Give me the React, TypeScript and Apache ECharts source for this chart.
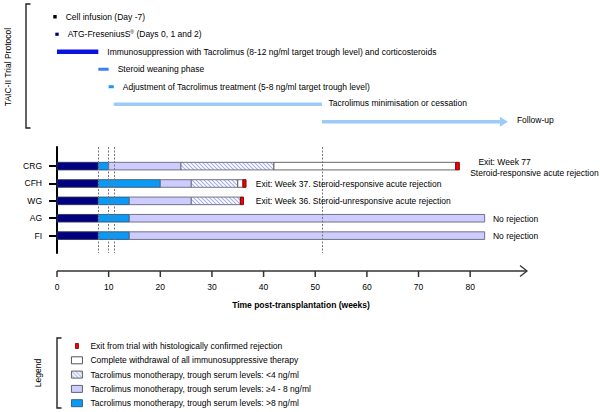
import React, { useEffect, useRef } from "react";
import * as echarts from "echarts";

const FONT = '"Liberation Sans", Arial, sans-serif';
const FS = 8.5;

// ---- Data ----
const rowNames = ["CRG", "CFH", "WG", "AG", "FI"];
const xTicks = [0, 10, 20, 30, 40, 50, 60, 70, 80];
const xAxisMax = 91;
// segments: [start week, end week, row index]
const inductionSeg = [[0, 8, 0], [0, 8, 1], [0, 8, 2], [0, 8, 3], [0, 8, 4]];
const tacHighSeg = [[8, 10, 0], [8, 20, 1], [8, 14, 2], [8, 14, 3], [8, 14, 4]];
const tacMidSeg = [[10, 24, 0], [20, 26, 1], [14, 26, 2], [14, 82.8, 3], [14, 82.8, 4]];
const tacLowSeg = [[24, 42, 0], [26, 35, 1], [26, 35.5, 2]];
const withdrawalSeg = [[42, 77.2, 0], [35, 36, 1]];
const exitSeg = [[77.2, 77.9, 0], [36, 36.6, 1], [35.5, 36.1, 2]];
const protocolMarks = [8, 10, 11, 51.3];
const annotationX = [81.6, 80.0, 38.5, 38.5, 84.4, 84.4];
const annotationRow = [-0.25, 0.35, 1, 2, 3, 4];
const annotationText = [
  "Exit: Week 77",
  "Steroid-responsive acute rejection",
  "Exit: Week 37. Steroid-responsive acute rejection",
  "Exit: Week 36. Steroid-unresponsive acute rejection",
  "No rejection",
  "No rejection",
];
const protocolText = [
  "Cell infusion (Day -7)",
  "ATG-FreseniusS{sup|®} (Days 0, 1 and 2)",
  "Immunosuppression with Tacrolimus (8-12 ng/ml target trough level) and corticosteroids",
  "Steroid weaning phase",
  "Adjustment of Tacrolimus treatment (5-8 ng/ml target trough level)",
  "Tacrolimus minimisation or cessation",
  "Follow-up",
];
const protocolStart = [-0.72, -0.33, 0, 8, 10, 11, 51.3];
const protocolEnd = [-0.06, 0.33, 8, 10, 11, 51.3, 87.3];
const legendNames = [
  "Exit from trial with histologically confirmed rejection",
  "Complete withdrawal of all immunosuppressive therapy",
  "Tacrolimus monotherapy, trough serum levels: <4 ng/ml",
  "Tacrolimus monotherapy, trough serum levels: \u22654 - 8 ng/ml",
  "Tacrolimus monotherapy, trough serum levels: >8 ng/ml",
];

// ---- Styles ----
const protocolStyle = [
  { color: "#000000", h: 3.4 },
  { color: "#000080", h: 3.2 },
  { color: "#0a14e0", h: 4.3 },
  { color: "#3f7cff", h: 3 },
  { color: "#1f95f5", h: 3 },
  { color: "#9ccbfa", h: 3.6 },
  { color: "#9ccbfa", h: 3.6 },
];

export default function App() {
  const ref = useRef<HTMLDivElement>(null);
  useEffect(() => {
    const el = ref.current!;
    const chart = echarts.init(el, null, { renderer: "svg" });

    const cv = document.createElement("canvas");
    const s = 4;
    cv.width = s;
    cv.height = s;
    const ctx = cv.getContext("2d")!;
    ctx.fillStyle = "#ffffff";
    ctx.fillRect(0, 0, s, s);
    ctx.strokeStyle = "#a7b0e6";
    ctx.lineWidth = 1.2;
    ctx.beginPath();
    ctx.moveTo(0, 0);
    ctx.lineTo(s, s);
    ctx.moveTo(-1, s - 1);
    ctx.lineTo(1, s + 1);
    ctx.moveTo(s - 1, -1);
    ctx.lineTo(s + 1, 1);
    ctx.stroke();
    const hatch: any = { image: cv, repeat: "repeat" };

    const segStyles: any = {
      induction: { fill: "#000080", stroke: "#333355" },
      high: { fill: "#0a9af5", stroke: "#335577" },
      mid: { fill: "#ccccff", stroke: "#666677" },
      low: { fill: hatch, stroke: "#666677" },
      withdrawal: { fill: "#ffffff", stroke: "#555555" },
      exit: { fill: "#ff0000", stroke: "#660000" },
    };

    const mkSeg = (name: string, data: number[][], st: any, z: number) => ({
      type: "custom",
      name,
      xAxisIndex: 0,
      yAxisIndex: 0,
      z,
      data,
      encode: { x: [0, 1], y: 2 },
      itemStyle: { color: st.fill, borderColor: st.stroke },
      renderItem: (params: any, api: any) => {
        const a = api.coord([api.value(0), api.value(2)]);
        const b = api.coord([api.value(1), api.value(2)]);
        const h = 7.6;
        return {
          type: "rect",
          shape: { x: a[0], y: a[1] - h / 2, width: b[0] - a[0], height: h },
          style: { fill: st.fill, stroke: st.stroke, lineWidth: 0.9 },
        };
      },
    });

    const option: any = {
      animation: false,
      textStyle: { fontFamily: FONT },
      grid: [
        { left: 57, width: 470, top: 147, height: 106 },
        { left: 57, width: 470, top: 8, height: 126 },
        { left: 57, width: 470, top: 147, height: 124 },
      ],
      xAxis: [
        { type: "value", gridIndex: 0, min: 0, max: xAxisMax, show: false },
        { type: "value", gridIndex: 1, min: 0, max: xAxisMax, show: false },
        {
          type: "value",
          gridIndex: 2,
          min: 0,
          max: xAxisMax,
          position: "bottom",
          splitLine: { show: false },
          axisLine: { show: false },
          axisTick: { show: false },
          axisLabel: { show: true, fontSize: FS, color: "#000", margin: 11, fontFamily: FONT, customValues: xTicks },
          name: "Time post-transplantation (weeks)",
          nameLocation: "middle",
          nameGap: 29.5,
          nameTextStyle: { fontSize: FS, fontWeight: "bold", color: "#000", fontFamily: FONT, padding: [0, 0, 0, 18] },
        },
      ],
      yAxis: [
        {
          type: "value",
          gridIndex: 0,
          inverse: true,
          min: -1.1,
          max: 5,
          splitLine: { show: false },
          axisLine: { show: true, onZero: false, lineStyle: { color: "#000", width: 2 } },
          axisTick: { show: true, length: 8, lineStyle: { color: "#000", width: 2 }, customValues: [0, 1, 2, 3, 4] },
          axisLabel: {
            show: true,
            fontSize: FS,
            color: "#000",
            margin: 15,
            fontFamily: FONT,
            customValues: [0, 1, 2, 3, 4],
            formatter: (v: number) => rowNames[Math.round(v)] ?? "",
          },
        },
        { type: "value", gridIndex: 1, inverse: true, min: -0.5, max: 6.7, show: false },
        { type: "value", gridIndex: 2, min: 0, max: 1, show: false },
      ],
      legend: {
        orient: "vertical",
        left: 71,
        top: 341.5,
        height: 80,
        padding: 0,
        itemWidth: 11,
        itemHeight: 7,
        itemGap: 5.3,
        selectedMode: false,
        textStyle: { fontSize: FS, color: "#000", fontFamily: FONT, padding: [0, 0, 0, 3] },
        data: [
          {
            name: legendNames[0],
            icon: "path://M0,0M11,7M4,1h3v5h-3z",
            itemStyle: { color: "#ff0000", borderColor: "#660000", borderWidth: 0.8 },
          },
          { name: legendNames[1], icon: "rect", itemStyle: { color: "#ffffff", borderColor: "#444", borderWidth: 0.9 } },
          { name: legendNames[2], icon: "rect", itemStyle: { color: hatch, borderColor: "#555", borderWidth: 0.9 } },
          { name: legendNames[3], icon: "rect", itemStyle: { color: "#ccccff", borderColor: "#555", borderWidth: 0.9 } },
          { name: legendNames[4], icon: "rect", itemStyle: { color: "#0a9af5", borderColor: "#335577", borderWidth: 0.9 } },
        ],
      },
      graphic: [
        {
          type: "polyline",
          shape: { points: [[30.5, 4], [26, 4], [26, 128], [30.5, 128]] },
          style: { stroke: "#222", lineWidth: 1.4, fill: "none" },
        },
        {
          type: "text",
          x: 8,
          y: 67,
          rotation: Math.PI / 2,
          style: { text: "TAIC-II Trial Protocol", fontSize: FS, fontFamily: FONT, fill: "#000", align: "center", verticalAlign: "middle" },
        },
        {
          type: "polyline",
          shape: { points: [[61.5, 338], [57, 338], [57, 408], [61.5, 408]] },
          style: { stroke: "#222", lineWidth: 1.4, fill: "none" },
        },
        {
          type: "text",
          x: 38,
          y: 373,
          rotation: Math.PI / 2,
          style: { text: "Legend", fontSize: FS, fontFamily: FONT, fill: "#000", align: "center", verticalAlign: "middle" },
        },
      ],
      series: [
        {
          type: "line",
          xAxisIndex: 0,
          yAxisIndex: 0,
          data: [],
          z: 1,
          silent: true,
          markLine: {
            silent: true,
            symbol: ["none", "none"],
            label: { show: false },
            lineStyle: { color: "#777", type: [2, 1.5], width: 1 },
            data: protocolMarks.map((v) => ({ xAxis: v })),
          },
        },
        // x axis line, ticks and arrow head, drawn through the axis scale
        {
          type: "custom",
          xAxisIndex: 2,
          yAxisIndex: 2,
          z: 2,
          clip: false,
          silent: true,
          data: [[0, xAxisMax]],
          encode: { x: [0, 1] },
          renderItem: (params: any, api: any) => {
            const a = api.coord([api.value(0), 0]);
            const b = api.coord([api.value(1), 0]);
            const y = a[1];
            const lineStyle = { stroke: "#333", lineWidth: 1.5 };
            const children: any[] = [
              { type: "line", shape: { x1: a[0], y1: y, x2: b[0] - 0.5, y2: y }, style: lineStyle },
              {
                type: "polyline",
                shape: { points: [[b[0] - 7, y - 5.5], [b[0], y], [b[0] - 7, y + 5.5]] },
                style: { stroke: "#333", lineWidth: 1.3, fill: "none" },
              },
            ];
            xTicks.forEach((t) => {
              const p = api.coord([t, 0]);
              children.push({ type: "line", shape: { x1: p[0], y1: y, x2: p[0], y2: y + 6 }, style: lineStyle });
            });
            return { type: "group", children };
          },
        },
        mkSeg("Induction", inductionSeg, segStyles.induction, 3),
        mkSeg(legendNames[4], tacHighSeg, segStyles.high, 3),
        mkSeg(legendNames[3], tacMidSeg, segStyles.mid, 3),
        mkSeg(legendNames[2], tacLowSeg, segStyles.low, 3),
        mkSeg(legendNames[1], withdrawalSeg, segStyles.withdrawal, 3),
        mkSeg(legendNames[0], exitSeg, segStyles.exit, 4),
        {
          type: "custom",
          xAxisIndex: 0,
          yAxisIndex: 0,
          z: 5,
          data: annotationX.map((x, i) => [x, annotationRow[i]]),
          encode: { x: 0, y: 1 },
          renderItem: (params: any, api: any) => {
            const p = api.coord([api.value(0), api.value(1)]);
            return {
              type: "text",
              x: p[0],
              y: p[1] + 0.5,
              style: {
                text: annotationText[params.dataIndex],
                fill: "#000",
                fontSize: FS,
                fontFamily: FONT,
                align: "left",
                verticalAlign: "middle",
              },
            };
          },
        },
        {
          type: "custom",
          xAxisIndex: 1,
          yAxisIndex: 1,
          z: 5,
          data: protocolStart.map((s0, i) => [s0, protocolEnd[i], i]),
          encode: { x: [0, 1], y: 2 },
          renderItem: (params: any, api: any) => {
            const i = params.dataIndex;
            const a = api.coord([api.value(0), api.value(2)]);
            const b = api.coord([api.value(1), api.value(2)]);
            const st = protocolStyle[i];
            const y = a[1];
            const children: any[] = [];
            if (i === 6) {
              const hw = st.h / 2;
              children.push({
                type: "polygon",
                shape: {
                  points: [
                    [a[0], y - hw],
                    [b[0] - 8, y - hw],
                    [b[0] - 8, y - 5],
                    [b[0], y],
                    [b[0] - 8, y + 5],
                    [b[0] - 8, y + hw],
                    [a[0], y + hw],
                  ],
                },
                style: { fill: st.color },
              });
            } else {
              children.push({
                type: "rect",
                shape: { x: a[0], y: y - st.h / 2, width: b[0] - a[0], height: st.h },
                style: { fill: st.color },
              });
            }
            children.push({
              type: "text",
              x: b[0] + (i === 5 ? 6.5 : 9),
              y: i === 5 || i === 6 ? y - 1.5 : y,
              style: {
                text: protocolText[i],
                fill: "#000",
                fontSize: FS,
                fontFamily: FONT,
                align: "left",
                verticalAlign: "middle",
                rich: { sup: { fontSize: 5, verticalAlign: "top", fontFamily: FONT, fill: "#000" } },
              },
            });
            return { type: "group", children };
          },
        },
      ],
    };
    chart.setOption(option);
    return () => chart.dispose();
  }, []);
  return <div ref={ref} style={{ position: "absolute", left: 0, top: 0, width: 600, height: 412 }} />;
}
